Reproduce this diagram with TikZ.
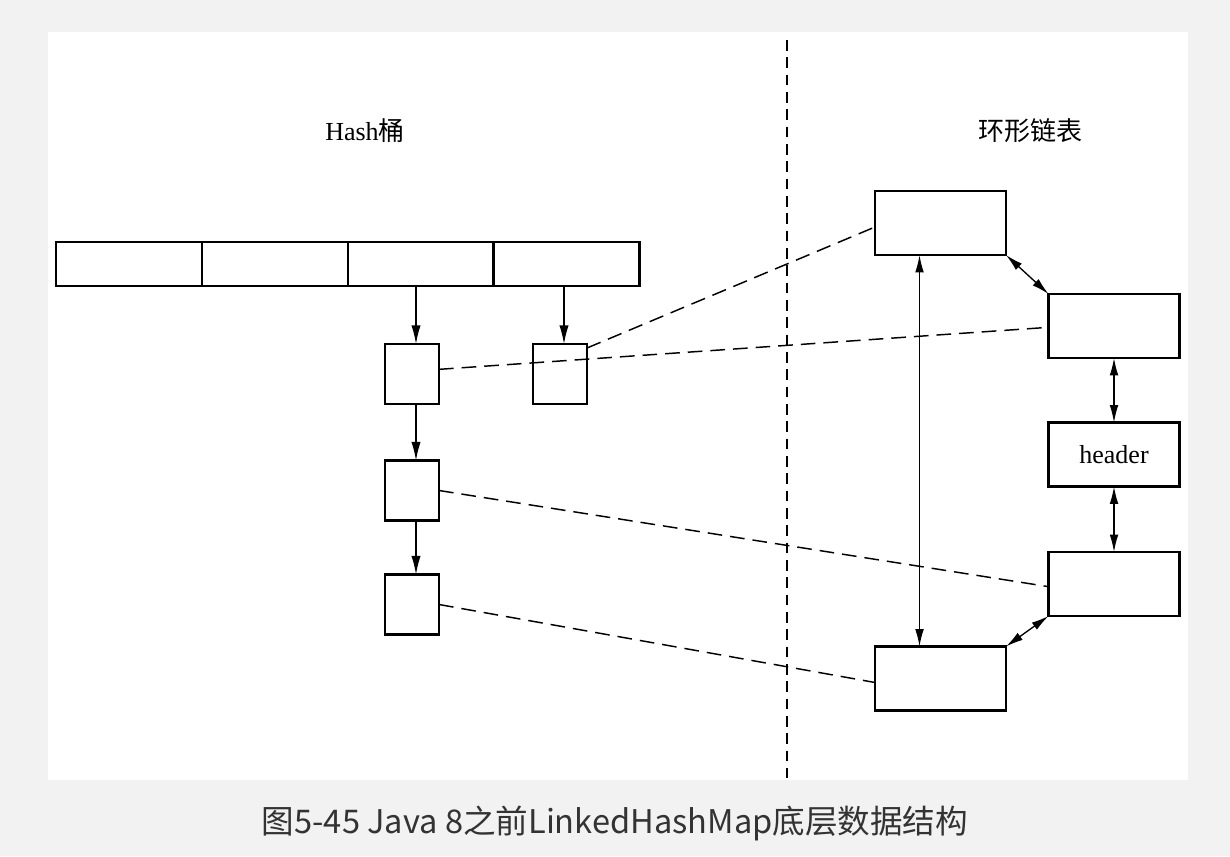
\documentclass[tikz,border=0pt]{standalone}
\usepackage{fontspec}
\setmainfont{Liberation Serif}
\newfontfamily\cjk{Noto Sans CJK SC}
\usetikzlibrary{arrows.meta}
\definecolor{bggray}{HTML}{F2F2F2}
\definecolor{captext}{HTML}{333333}
\begin{document}
\begin{tikzpicture}[x=0.75pt,y=-0.75pt,
  cell/.style={draw, line width=1.7pt, inner sep=0pt, outer sep=0pt, minimum width=109.5pt, minimum height=33pt},
  small/.style={draw, line width=1.7pt, inner sep=0pt, outer sep=0pt, minimum width=40.5pt, minimum height=45pt},
  big/.style={draw, line width=1.7pt, inner sep=0pt, outer sep=0pt, minimum width=98.25pt, minimum height=48pt, font=\fontsize{19.5}{22}\selectfont},
  arr/.style={line width=1pt, -{Latex[length=14pt,width=7pt]}},
  darr/.style={line width=1pt, {Latex[length=13pt,width=6.5pt]}-{Latex[length=13pt,width=6.5pt]}},
  dash line/.style={line width=1.1pt, dash pattern=on 11pt off 6pt},
  lbl/.style={font=\fontsize{19.5}{22}\selectfont}
]
\useasboundingbox[fill=bggray] (0,0) rectangle (1230,856);
\fill[white] (48,32) rectangle (1188,780);

% divider
\coordinate (dtop) at (787,40);
\coordinate (dbot) at (787,778);
\draw[line width=1.1pt, dash pattern=on 8pt off 5pt] (dtop) -- (dbot);

% titles
\node[lbl] (t1) at (365,131) {Hash{\cjk 桶}};
\node[lbl] (t2) at (1030,131) {{\cjk 环形链表}};

% bucket array
\node[cell] (b1) at (129,264) {};
\node[cell] (b2) at (275,264) {};
\node[cell] (b3) at (421,264) {};
\node[cell] (b4) at (566.5,264) {};

% chain boxes
\node[small] (A) at (412,374) {};
\node[small] (B) at (560,374) {};
\node[small] (C) at (412,490.5) {};
\node[small] (D) at (412,604.5) {};

\draw[arr] ([xshift=3pt]A.north |- b3.south) -- ([xshift=3pt]A.north);
\draw[arr] ([xshift=3pt]B.north |- b4.south) -- ([xshift=3pt]B.north);
\draw[arr] ([xshift=3pt]A.south) -- ([xshift=3pt]C.north);
\draw[arr] ([xshift=3pt]C.south) -- ([xshift=3pt]D.north);

% ring list
\node[big] (R1) at (940.5,223) {};
\node[big] (R2) at (1114,326) {};
\node[big] (H) at (1114,454.5) {header};
\node[big] (R4) at (1114,584) {};
\node[big] (R5) at (940.5,678.5) {};

\draw[darr] ([xshift=-15.75pt]R1.south) -- ([xshift=-15.75pt]R5.north);
\draw[darr] (R1.south east) -- (R2.north west);
\draw[darr] (R2.south) -- (H.north);
\draw[darr] (H.south) -- (R4.north);
\draw[darr] (R4.south west) -- (R5.north east);

% dashed links
\draw[dash line] ([yshift=3.5pt]A.east) -- ([yshift=-1pt]R2.west);
\draw[dash line] ([yshift=19.5pt]B.east) -- ([yshift=-3pt]R1.west);
\draw[dash line] (C.east) -- ([yshift=-2pt]R4.west);
\draw[dash line] (D.east) -- ([yshift=-3pt]R5.west);

% caption
\node[text=captext] (cap) at (615,823) {\resizebox{529.5pt}{!}{\cjk 图5-45 Java 8之前LinkedHashMap底层数据结构}};
\end{tikzpicture}
\end{document}
